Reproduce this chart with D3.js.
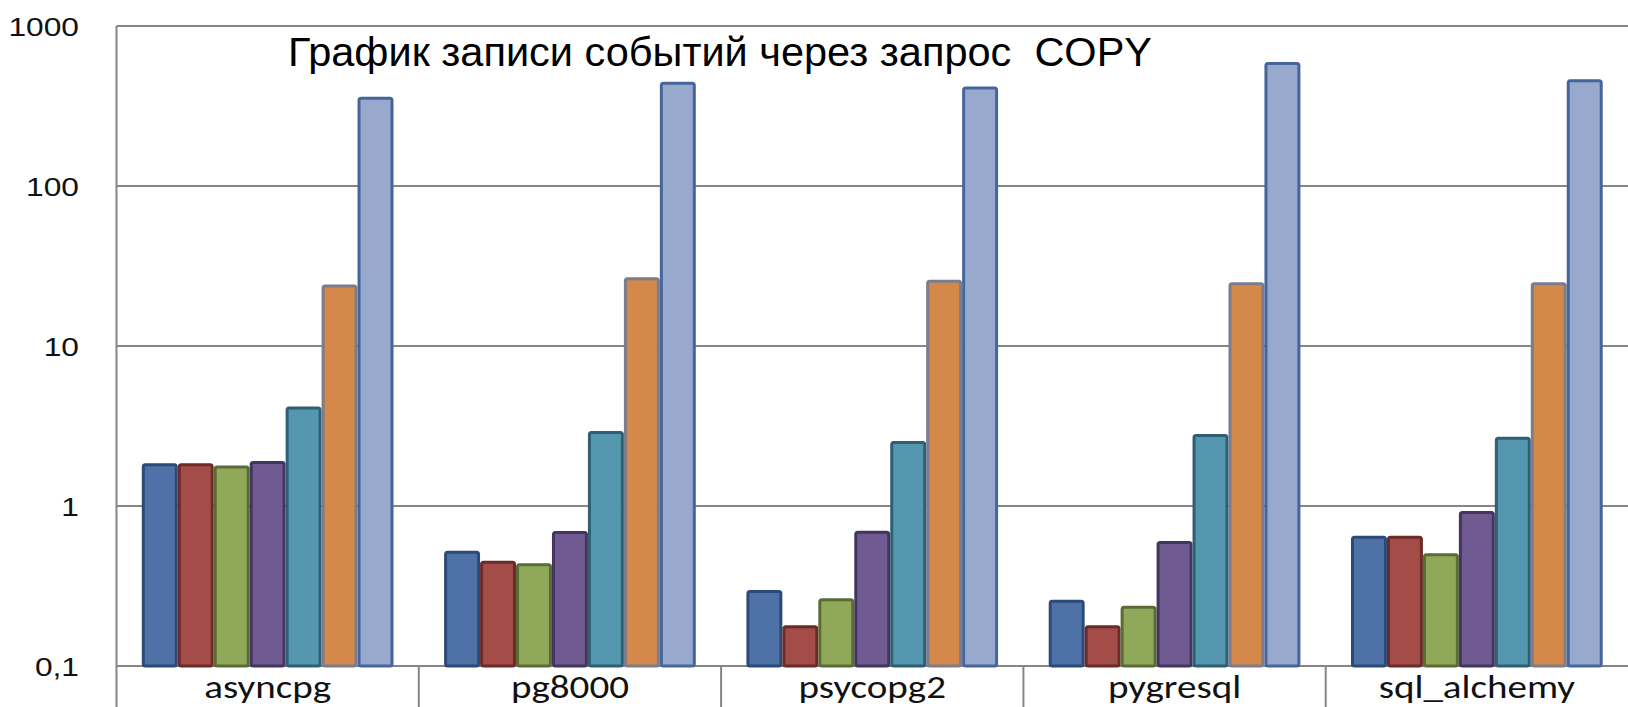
<!DOCTYPE html>
<html>
<head>
<meta charset="utf-8">
<script src="https://cdn.jsdelivr.net/npm/d3@7"></script>
<style>
  html, body { margin: 0; padding: 0; background: #fff; }
  svg { display: block; }
</style>
</head>
<body>
<svg id="chart" width="1628" height="707"></svg>
<script>
// Drivers on the x axis
const categories = ["asyncpg", "pg8000", "psycopg2", "pygresql", "sql_alchemy"];

// Seven series, one value per driver (log scale)
const series1 = [1.85, 0.526, 0.299, 0.259, 0.652];
const series2 = [1.85, 0.455, 0.180, 0.180, 0.652];
const series3 = [1.79, 0.438, 0.265, 0.238, 0.506];
const series4 = [1.91, 0.698, 0.701, 0.604, 0.93];
const series5 = [4.18, 2.94, 2.55, 2.82, 2.71];
const series6 = [24.2, 26.9, 25.9, 25.0, 25.0];
const series7 = [361, 449, 418, 596, 464];

// Y axis ticks and their labels
const tickValues = [0.1, 1, 10, 100, 1000];
const tickLabels = ["0,1", "1", "10", "100", "1000"];

const title = "График записи событий через запрос  COPY";

const allSeries = [series1, series2, series3, series4, series5, series6, series7];
const fills   = ["#4e72a7", "#a34c48", "#8fa859", "#6f5a92", "#5597ae", "#d4884a", "#98a9ce"];
const strokes = ["#2c4a77", "#6b2b29", "#5a6c34", "#44355f", "#2f5f72", "#7b7c8c", "#46659c"];

const svg = d3.select("#chart");

const plotLeft = 116.5, plotRight = 1628, plotTop = 26, plotBottom = 666;

const x = d3.scaleBand().domain(categories).range([plotLeft, plotRight]).padding(0);
const bw = x.bandwidth();
const groupPad = 25.3;
const xInner = d3.scaleBand().domain(d3.range(allSeries.length))
  .range([groupPad, bw - groupPad]).padding(0);

const y = d3.scaleLog().domain([0.1, 1000]).range([plotBottom, plotTop]);

// Horizontal gridlines (including the baseline at 0.1)
svg.append("g").selectAll("line").data(tickValues).join("line")
  .attr("x1", plotLeft).attr("x2", plotRight)
  .attr("y1", d => y(d)).attr("y2", d => y(d))
  .attr("stroke", "#868686").attr("stroke-width", 2);

// Left axis line, running down through the category label row
svg.append("line")
  .attr("x1", plotLeft).attr("x2", plotLeft).attr("y1", plotTop).attr("y2", 707)
  .attr("stroke", "#868686").attr("stroke-width", 2);

// Separators between category labels
svg.append("g").selectAll("line").data(categories.slice(1)).join("line")
  .attr("x1", d => x(d)).attr("x2", d => x(d))
  .attr("y1", plotBottom).attr("y2", 707)
  .attr("stroke", "#868686").attr("stroke-width", 2);

// Y axis labels (slightly widened glyphs)
const yAxis = d3.axisLeft(y).tickValues(tickValues)
  .tickFormat((d, i) => tickLabels[i]).tickSize(0).tickPadding(0);
const yg = svg.append("g").attr("transform", `translate(${plotLeft - 37.5},0) scale(1.22,1)`).call(yAxis);
yg.select(".domain").remove();
yg.selectAll("text")
  .attr("font-family", "'Liberation Sans', Arial, sans-serif")
  .attr("font-size", 26).attr("fill", "#111").attr("dy", "0.35em");

// Bars
const groups = svg.append("g").selectAll("g").data(categories).join("g")
  .attr("transform", d => `translate(${x(d)},0)`);

groups.selectAll("rect")
  .data((c, ci) => allSeries.map((s, si) => ({ si, v: s[ci] })))
  .join("rect")
  .attr("x", d => xInner(d.si) + 1.5)
  .attr("width", xInner.bandwidth() - 3)
  .attr("y", d => y(d.v) + 1.5)
  .attr("height", d => y(0.1) - y(d.v) - 1.5)
  .attr("rx", 2)
  .attr("fill", d => fills[d.si])
  .attr("stroke", d => strokes[d.si])
  .attr("stroke-width", 3);

// Category labels (widened glyphs)
svg.append("g").selectAll("text").data(categories).join("text")
  .attr("transform", d => `translate(${x(d) + bw / 2},698) scale(1.22,1)`)
  .attr("text-anchor", "middle")
  .attr("font-family", "Carlito, Lato, 'Open Sans', sans-serif")
  .attr("font-size", 32)
  .attr("fill", "#111")
  .text(d => d);

// Title
svg.append("text")
  .attr("x", 288).attr("y", 66)
  .attr("font-family", "'Liberation Sans', Arial, sans-serif")
  .attr("font-size", 41.5)
  .attr("fill", "#000")
  .style("white-space", "pre")
  .text(title);
</script>
</body>
</html>
